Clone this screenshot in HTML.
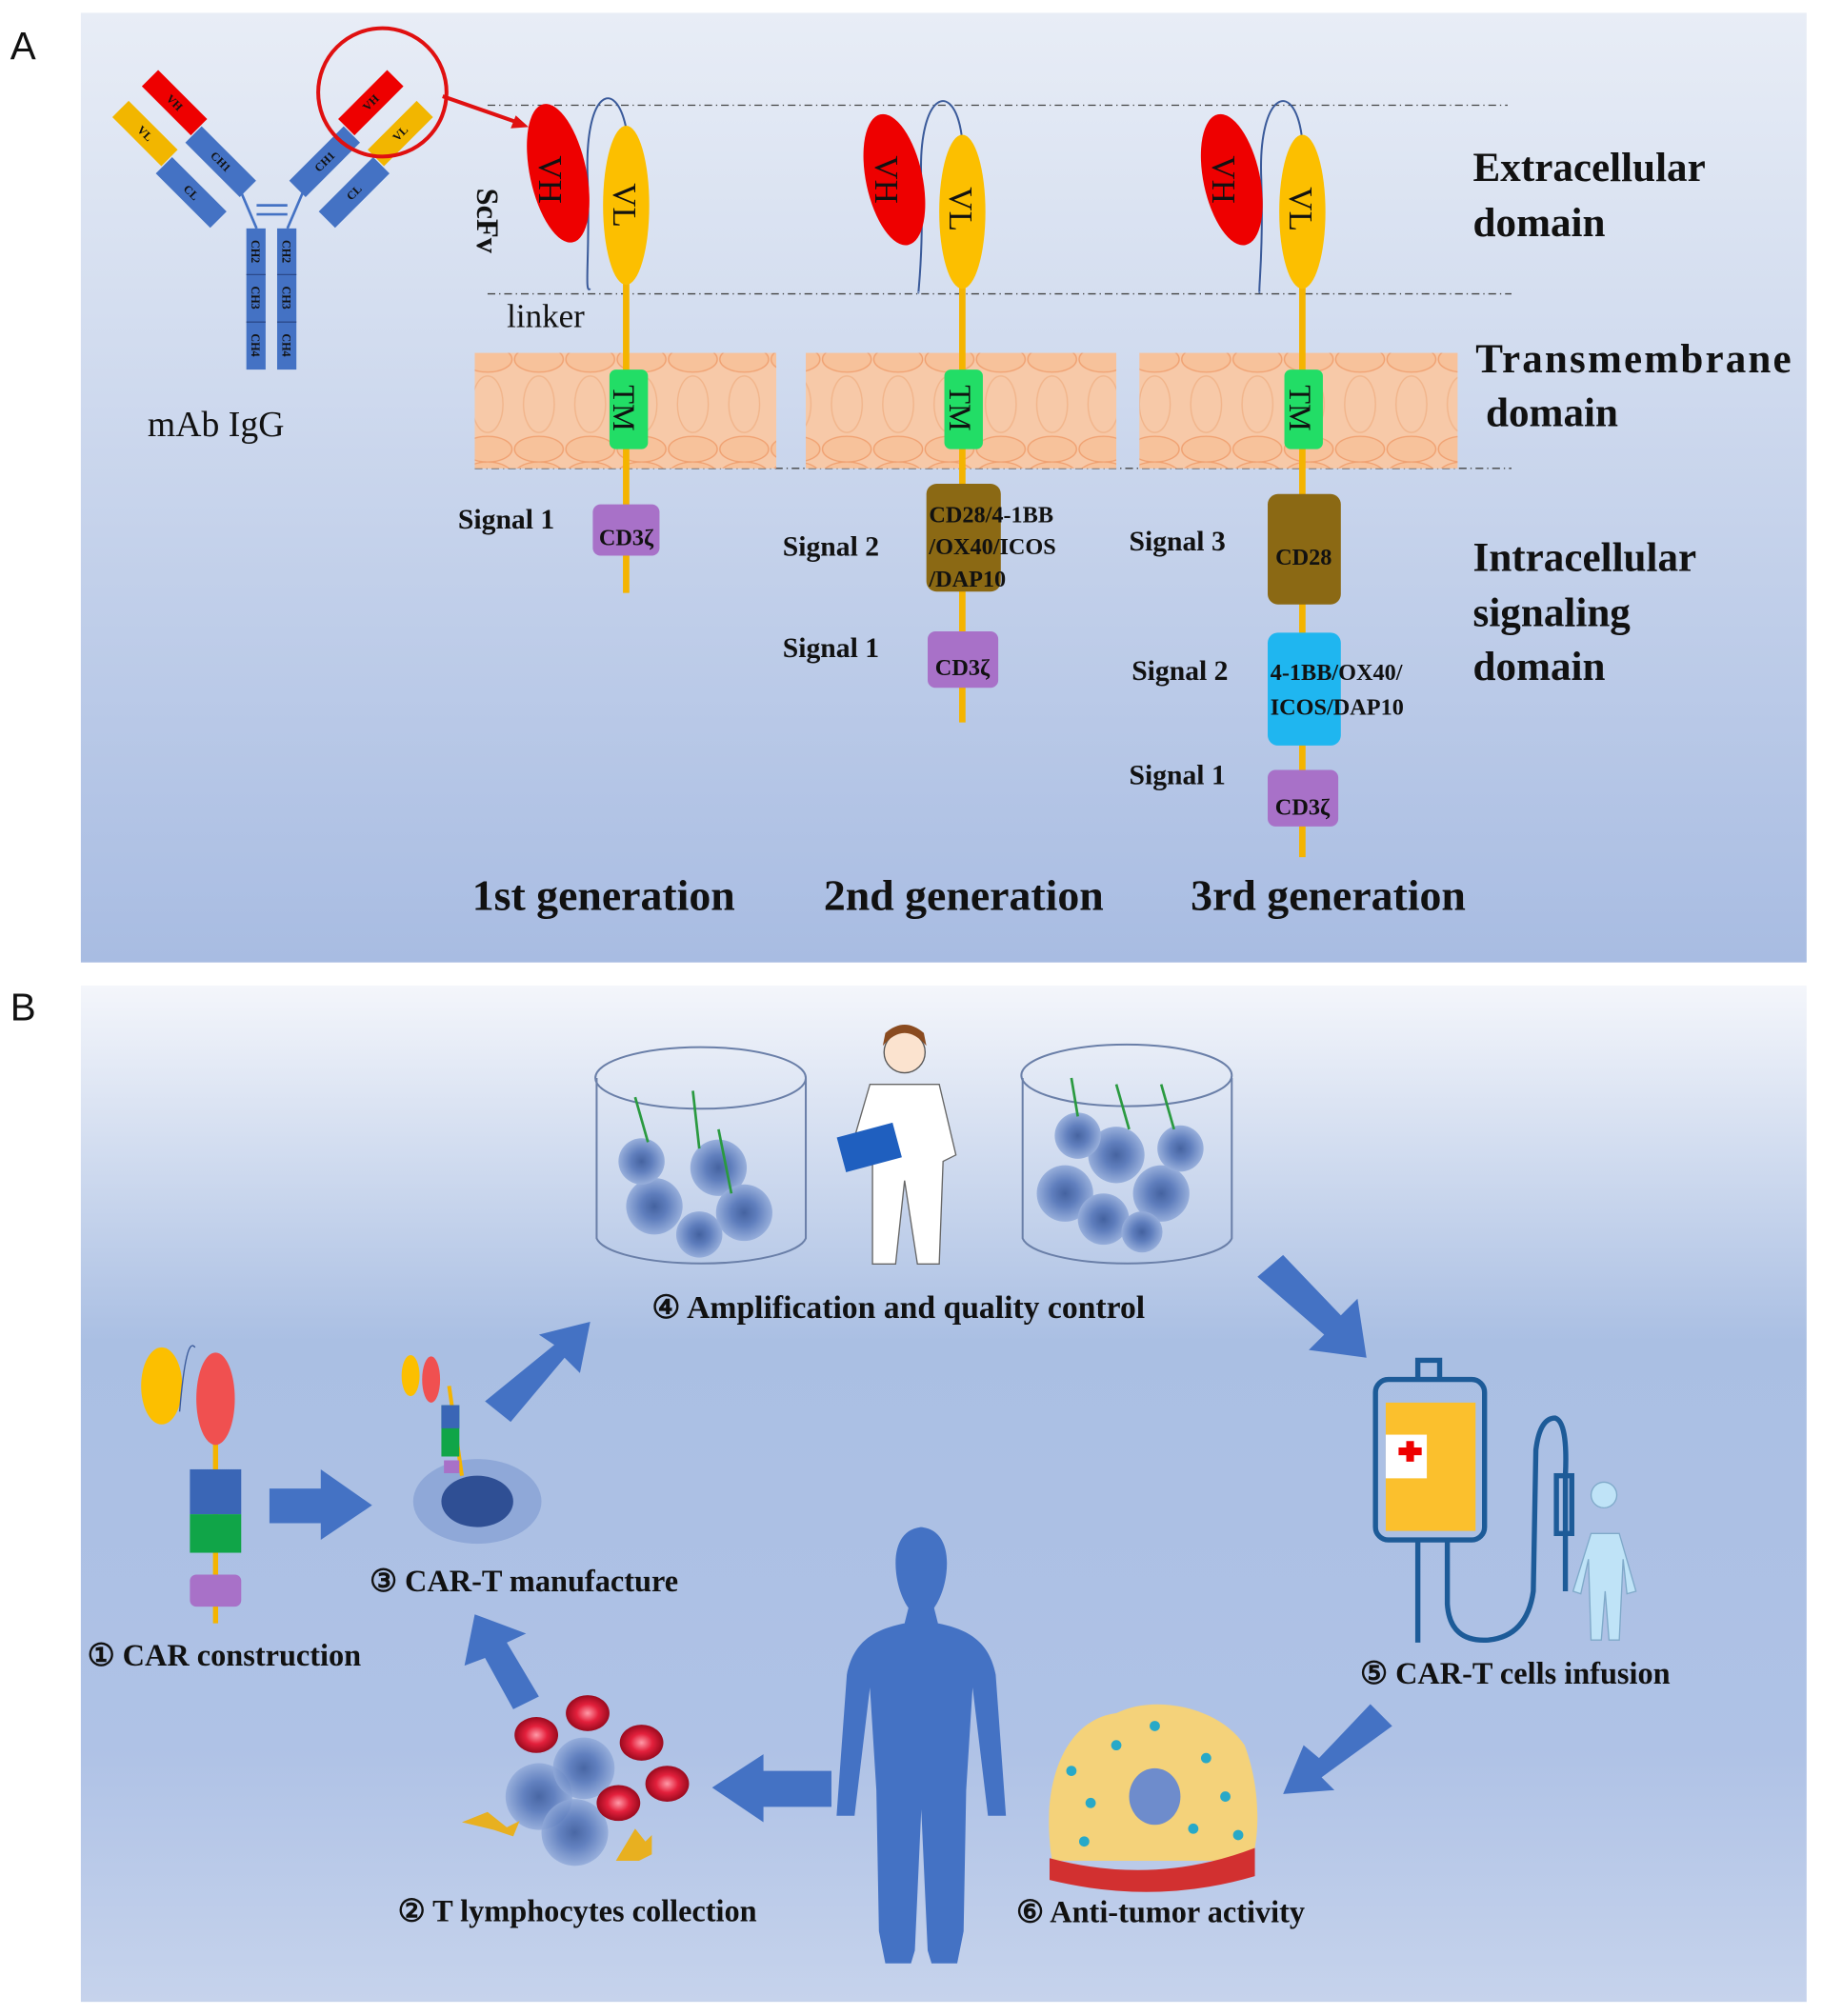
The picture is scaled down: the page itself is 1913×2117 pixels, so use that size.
<!DOCTYPE html>
<html><head><meta charset="utf-8"><style>
html,body{margin:0;padding:0;background:#fff;}
svg{display:block;}
text{font-family:"Liberation Serif",serif;font-weight:bold;fill:#111;}
</style></head><body>
<svg width="1913" height="2117" viewBox="0 0 1420 1571" preserveAspectRatio="none" xmlns="http://www.w3.org/2000/svg">
<defs>
<linearGradient id="ga" x1="0" y1="0" x2="0" y2="1"><stop offset="0" stop-color="#e8edf6"/><stop offset="1" stop-color="#a8bce2"/></linearGradient>
<linearGradient id="gb" x1="0" y1="0" x2="0" y2="1"><stop offset="0" stop-color="#f4f6fb"/><stop offset="0.35" stop-color="#aabfe3"/><stop offset="0.75" stop-color="#afc2e6"/><stop offset="1" stop-color="#c6d3ec"/></linearGradient>
<pattern id="mem" width="40" height="90" patternUnits="userSpaceOnUse"><rect width="40" height="90" fill="#f7c9a8"/><ellipse cx="20" cy="10" rx="19" ry="10" fill="#f7c29b" stroke="#f0a070" stroke-width="1"/><ellipse cx="20" cy="80" rx="19" ry="10" fill="#f7c29b" stroke="#f0a070" stroke-width="1"/><ellipse cx="20" cy="45" rx="12" ry="22" fill="none" stroke="#f1b48a" stroke-width="1"/></pattern>
<radialGradient id="cell"><stop offset="0" stop-color="#2e4f93"/><stop offset="0.45" stop-color="#4d6fb5"/><stop offset="1" stop-color="#8fa8d8"/></radialGradient>
<radialGradient id="rbc"><stop offset="0" stop-color="#ff9aa8"/><stop offset="0.5" stop-color="#e3203c"/><stop offset="1" stop-color="#9a0a1e"/></radialGradient>
</defs>
<rect width="1420" height="1571" fill="#fff"/>
<rect x="63" y="10" width="1345" height="740" fill="url(#ga)"/>
<rect x="63" y="768" width="1345" height="792" fill="url(#gb)"/>
<text x="8" y="46" style="font-family:'Liberation Sans',sans-serif;font-weight:normal;font-size:30px">A</text>
<text x="8" y="795" style="font-family:'Liberation Sans',sans-serif;font-weight:normal;font-size:30px">B</text>

<!-- IgG -->
<g style="font-family:'Liberation Sans',sans-serif;font-weight:normal" font-size="9">
<rect x="192" y="178" width="15" height="110" fill="#4472c4"/><rect x="216" y="178" width="15" height="110" fill="#4472c4"/>
<g stroke="#2b4a8a" stroke-width="1"><line x1="192" y1="214" x2="207" y2="214"/><line x1="192" y1="251" x2="207" y2="251"/><line x1="216" y1="214" x2="231" y2="214"/><line x1="216" y1="251" x2="231" y2="251"/></g>
<g fill="#1a2e66"><text x="196" y="196" transform="rotate(90 196 196)" text-anchor="middle">CH2</text><text x="220" y="196" transform="rotate(90 220 196)" text-anchor="middle">CH2</text>
<text x="196" y="232" transform="rotate(90 196 232)" text-anchor="middle">CH3</text><text x="220" y="232" transform="rotate(90 220 232)" text-anchor="middle">CH3</text>
<text x="196" y="269" transform="rotate(90 196 269)" text-anchor="middle">CH4</text><text x="220" y="269" transform="rotate(90 220 269)" text-anchor="middle">CH4</text></g>
<g stroke="#4472c4" stroke-width="2"><line x1="200" y1="160" x2="224" y2="160"/><line x1="200" y1="167" x2="224" y2="167"/><line x1="188" y1="150" x2="200" y2="178"/><line x1="236" y1="150" x2="224" y2="178"/></g>
<!-- left arm -->
<g transform="translate(136,80) rotate(-45)"><rect x="-9" y="-27" width="18" height="54" fill="#ee0000"/><text x="0" y="3" transform="rotate(90)" text-anchor="middle" fill="#300">VH</text></g>
<g transform="translate(172,126) rotate(-45)"><rect x="-9" y="-30" width="18" height="60" fill="#4472c4"/><text x="0" y="3" transform="rotate(90)" text-anchor="middle" fill="#123">CH1</text></g>
<g transform="translate(113,104) rotate(-45)"><rect x="-9" y="-27" width="18" height="54" fill="#f2b600"/><text x="0" y="3" transform="rotate(90)" text-anchor="middle" fill="#320">VL</text></g>
<g transform="translate(149,150) rotate(-45)"><rect x="-9" y="-30" width="18" height="60" fill="#4472c4"/><text x="0" y="3" transform="rotate(90)" text-anchor="middle" fill="#123">CL</text></g>
<!-- right arm -->
<g transform="translate(289,80) rotate(45)"><rect x="-9" y="-27" width="18" height="54" fill="#ee0000"/><text x="0" y="3" transform="rotate(-90)" text-anchor="middle" fill="#300">VH</text></g>
<g transform="translate(253,126) rotate(45)"><rect x="-9" y="-30" width="18" height="60" fill="#4472c4"/><text x="0" y="3" transform="rotate(-90)" text-anchor="middle" fill="#123">CH1</text></g>
<g transform="translate(312,104) rotate(45)"><rect x="-9" y="-27" width="18" height="54" fill="#f2b600"/><text x="0" y="3" transform="rotate(-90)" text-anchor="middle" fill="#320">VL</text></g>
<g transform="translate(276,150) rotate(45)"><rect x="-9" y="-30" width="18" height="60" fill="#4472c4"/><text x="0" y="3" transform="rotate(-90)" text-anchor="middle" fill="#123">CL</text></g>
</g>
<text x="115" y="340" style="font-weight:normal;font-size:28px">mAb  IgG</text>
<circle cx="298" cy="72" r="50" fill="none" stroke="#e01010" stroke-width="3"/>
<line x1="345" y1="75" x2="405" y2="96" stroke="#e01010" stroke-width="3"/><polygon points="412,99 398,100 402,90" fill="#e01010"/>

<!-- dashed lines -->
<g stroke="#444" stroke-width="1" stroke-dasharray="6,3,1,3">
<line x1="380" y1="82" x2="1175" y2="82"/><line x1="380" y1="229" x2="1178" y2="229"/><line x1="370" y1="365" x2="1178" y2="365"/></g>

<!-- membranes -->
<rect x="370" y="275" width="235" height="90" fill="url(#mem)"/>
<rect x="628" y="275" width="242" height="90" fill="url(#mem)"/>
<rect x="888" y="275" width="248" height="90" fill="url(#mem)"/>

<g>
<line x1="488" y1="200" x2="488" y2="462" stroke="#f4b400" stroke-width="5"/>
<path d="M488 100 C480 60 455 70 458 140 C460 200 455 230 460 225" fill="none" stroke="#3a5a9a" stroke-width="1.5"/>
<ellipse cx="435" cy="135" rx="22" ry="55" transform="rotate(-12 435 135)" fill="#ee0000"/>
<ellipse cx="488" cy="160" rx="18" ry="62" fill="#fcbf00"/>
<rect x="475" y="288" width="30" height="62" rx="5" fill="#22dd66"/>
<rect x="462" y="393" width="52" height="40" rx="6" fill="#a871c8"/>
</g>
<text x="420" y="140" transform="rotate(90 420 140)" font-size="26" style="font-weight:normal" text-anchor="middle">VH</text>
<text x="478" y="160" transform="rotate(90 478 160)" font-size="26" style="font-weight:normal" text-anchor="middle">VL</text>
<text x="478" y="318" transform="rotate(90 478 318)" font-size="24" style="font-weight:normal" text-anchor="middle">TM</text>
<text x="488" y="425" font-size="18" text-anchor="middle">CD3ζ</text>
<text x="372" y="172" transform="rotate(90 372 172)" font-size="24" text-anchor="middle">ScFv</text>
<text x="395" y="255" font-size="26" style="font-weight:normal">linker</text>
<text x="357" y="412" font-size="22">Signal 1</text>

<line x1="750" y1="200" x2="750" y2="563" stroke="#f4b400" stroke-width="5"/>
<path d="M750 110 C745 60 715 70 718 140 C720 200 715 230 716 228" fill="none" stroke="#3a5a9a" stroke-width="1.5"/>
<ellipse cx="697" cy="140" rx="22" ry="52" transform="rotate(-12 697 140)" fill="#ee0000"/>
<ellipse cx="750" cy="165" rx="18" ry="60" fill="#fcbf00"/>
<rect x="736" y="288" width="30" height="62" rx="5" fill="#22dd66"/>
<rect x="722" y="377" width="58" height="84" rx="8" fill="#8b6914"/>
<rect x="723" y="492" width="55" height="44" rx="6" fill="#a871c8"/>
<text x="682" y="140" transform="rotate(90 682 140)" font-size="26" style="font-weight:normal" text-anchor="middle">VH</text>
<text x="740" y="163" transform="rotate(90 740 163)" font-size="26" style="font-weight:normal" text-anchor="middle">VL</text>
<text x="740" y="318" transform="rotate(90 740 318)" font-size="24" style="font-weight:normal" text-anchor="middle">TM</text>
<text x="724" y="407" font-size="18">CD28/4-1BB</text><text x="724" y="432" font-size="18">/OX40/ICOS</text><text x="724" y="457" font-size="18">/DAP10</text>
<text x="750" y="526" font-size="18" text-anchor="middle">CD3ζ</text>
<text x="610" y="433" font-size="22">Signal 2</text><text x="610" y="512" font-size="22">Signal 1</text>

<line x1="1015" y1="200" x2="1015" y2="668" stroke="#f4b400" stroke-width="5"/>
<path d="M1015 110 C1010 60 980 70 983 140 C985 200 980 230 982 228" fill="none" stroke="#3a5a9a" stroke-width="1.5"/>
<ellipse cx="960" cy="140" rx="22" ry="52" transform="rotate(-12 960 140)" fill="#ee0000"/>
<ellipse cx="1015" cy="165" rx="18" ry="60" fill="#fcbf00"/>
<rect x="1001" y="288" width="30" height="62" rx="5" fill="#22dd66"/>
<rect x="988" y="385" width="57" height="86" rx="8" fill="#8b6914"/>
<rect x="988" y="493" width="57" height="88" rx="8" fill="#1fb6f0"/>
<rect x="988" y="600" width="55" height="44" rx="6" fill="#a871c8"/>
<text x="945" y="140" transform="rotate(90 945 140)" font-size="26" style="font-weight:normal" text-anchor="middle">VH</text>
<text x="1005" y="163" transform="rotate(90 1005 163)" font-size="26" style="font-weight:normal" text-anchor="middle">VL</text>
<text x="1005" y="318" transform="rotate(90 1005 318)" font-size="24" style="font-weight:normal" text-anchor="middle">TM</text>
<text x="1016" y="440" font-size="18" text-anchor="middle">CD28</text>
<text x="990" y="530" font-size="18">4-1BB/OX40/</text><text x="990" y="557" font-size="18">ICOS/DAP10</text>
<text x="1015" y="635" font-size="18" text-anchor="middle">CD3ζ</text>
<text x="880" y="429" font-size="22">Signal 3</text><text x="882" y="530" font-size="22">Signal 2</text><text x="880" y="611" font-size="22">Signal 1</text>

<g font-size="32"><text x="1148" y="141">Extracellular</text><text x="1148" y="184">domain</text>
<text x="1150" y="290" textLength="246">Transmembrane</text><text x="1158" y="332">domain</text>
<text x="1148" y="445">Intracellular</text><text x="1148" y="488">signaling</text><text x="1148" y="530">domain</text>
<text x="368" y="709" font-size="34">1st generation</text><text x="642" y="709" font-size="34">2nd generation</text><text x="928" y="709" font-size="34">3rd generation</text></g>

<!-- Panel B -->
<g fill="none" stroke="#6a7fa8" stroke-width="1.5">
<path d="M465 840 L465 965 A82 22 0 0 0 628 965 L628 840"/><ellipse cx="546" cy="840" rx="82" ry="24"/>
<path d="M797 840 L797 965 A82 22 0 0 0 960 965 L960 840"/><ellipse cx="878" cy="838" rx="82" ry="24"/>
</g>
<g fill="url(#cell)" opacity="0.85">
<circle cx="510" cy="940" r="22"/><circle cx="560" cy="910" r="22"/><circle cx="580" cy="945" r="22"/><circle cx="545" cy="962" r="18"/><circle cx="500" cy="905" r="18"/>
<circle cx="830" cy="930" r="22"/><circle cx="870" cy="900" r="22"/><circle cx="905" cy="930" r="22"/><circle cx="860" cy="950" r="20"/><circle cx="920" cy="895" r="18"/><circle cx="840" cy="885" r="18"/><circle cx="890" cy="960" r="16"/>
</g>
<g stroke-width="2">
<line x1="505" y1="890" x2="495" y2="855" stroke="#2a9a40"/><line x1="545" y1="895" x2="540" y2="850" stroke="#2a9a40"/><line x1="570" y1="930" x2="560" y2="880" stroke="#2a9a40"/>
<line x1="840" y1="870" x2="835" y2="840" stroke="#2a9a40"/><line x1="880" y1="880" x2="870" y2="845" stroke="#2a9a40"/><line x1="915" y1="880" x2="905" y2="845" stroke="#2a9a40"/>
</g>
<g>
<circle cx="705" cy="820" r="16" fill="#fbe3cf" stroke="#555"/><path d="M688 815 Q705 795 722 815 L720 805 Q705 792 690 805Z" fill="#8a4b20"/>
<path d="M678 845 L732 845 L745 900 L735 905 L732 985 L715 985 L705 920 L698 985 L680 985 L680 905 L662 900Z" fill="#fff" stroke="#666"/>
<rect x="655" y="880" width="45" height="28" fill="#1f5fbf" transform="rotate(-15 678 894)"/>
</g>
<text x="508" y="1027" font-size="25">④ Amplification and quality control</text>

<g fill="#4472c4">
<polygon points="980,995 1000,978 1045,1025 1058,1012 1065,1058 1020,1052 1032,1040"/>
<polygon points="378,1092 398,1108 440,1058 452,1070 460,1030 420,1040 432,1048"/>
<polygon points="210,1160 250,1160 250,1145 290,1173 250,1200 250,1187 210,1187"/>
<polygon points="400,1332 420,1322 395,1280 410,1273 370,1258 362,1298 378,1292"/>
<polygon points="648,1380 648,1408 595,1408 595,1420 555,1393 595,1367 595,1380"/>
<polygon points="1085,1345 1068,1328 1028,1370 1016,1360 1000,1398 1040,1395 1030,1385"/>
</g>

<line x1="168" y1="1090" x2="168" y2="1265" stroke="#f4b400" stroke-width="4"/>
<ellipse cx="126" cy="1080" rx="16" ry="30" fill="#fcbf00"/>
<ellipse cx="168" cy="1090" rx="15" ry="36" fill="#f05050"/>
<path d="M140 1100 Q145 1040 152 1050" fill="none" stroke="#3a5a9a"/>
<rect x="148" y="1145" width="40" height="35" fill="#3a66b6"/><rect x="148" y="1180" width="40" height="30" fill="#10a548"/>
<rect x="148" y="1227" width="40" height="25" rx="5" fill="#a871c8"/>
<text x="68" y="1298" font-size="24">① CAR construction</text>
<ellipse cx="372" cy="1170" rx="50" ry="33" fill="#8fa8d8"/><ellipse cx="372" cy="1170" rx="28" ry="20" fill="#2f4f94"/>
<line x1="350" y1="1080" x2="360" y2="1150" stroke="#f4b400" stroke-width="3"/>
<ellipse cx="320" cy="1072" rx="7" ry="16" fill="#fcbf00"/><ellipse cx="336" cy="1075" rx="7" ry="18" fill="#f05050"/>
<rect x="344" y="1095" width="14" height="40" fill="#10a548"/><rect x="344" y="1095" width="14" height="18" fill="#3a66b6"/>
<rect x="346" y="1138" width="12" height="10" fill="#a871c8"/>
<text x="288" y="1240" font-size="24">③ CAR-T manufacture</text>

<g fill="none" stroke="#1d5b98" stroke-width="4">
<rect x="1072" y="1075" width="85" height="125" rx="10"/>
<path d="M1105 1075 L1105 1060 L1122 1060 L1122 1075"/>
<line x1="1105" y1="1200" x2="1105" y2="1280"/>
<path d="M1128 1200 L1128 1250 Q1130 1280 1160 1278 Q1190 1275 1195 1240 L1197 1130 Q1200 1105 1212 1105 Q1222 1108 1220 1150 L1220 1240"/>
<rect x="1213" y="1150" width="12" height="45"/>
</g>
<rect x="1080" y="1093" width="70" height="100" fill="#fbc02d"/>
<rect x="1080" y="1118" width="32" height="34" fill="#fff"/>
<path d="M1090 1128 h6 v-5 h6 v5 h6 v6 h-6 v5 h-6 v-5 h-6z" fill="#e00"/>
<path d="M1250 1175 a10 10 0 1 1 0.1 0 M1240 1195 L1262 1195 L1275 1240 L1268 1242 L1265 1215 L1262 1278 L1254 1278 L1251 1240 L1248 1278 L1240 1278 L1238 1215 L1232 1242 L1226 1240Z" fill="#bfe3f7" stroke="#7fa9c9"/>
<text x="1060" y="1312" font-size="24">⑤ CAR-T cells infusion</text>

<path d="M720 1190 c-15 0 -22 12 -22 28 c0 15 5 28 10 35 l-3 12 c-25 5 -40 15 -45 40 l-8 110 l14 0 l12 -100 l5 80 l2 110 l5 25 l20 0 l3 -10 l5 -110 l5 110 l3 10 l20 0 l5 -25 l2 -110 l5 -80 l12 100 l14 0 l-8 -110 c-5 -25 -20 -35 -45 -40 l-3 -12 c5 -7 10 -20 10 -35 c0 -16 -7 -28 -22 -28z" fill="#4472c4"/>

<g>
<circle cx="420" cy="1400" r="26" fill="url(#cell)" opacity="0.8"/><circle cx="455" cy="1378" r="24" fill="url(#cell)" opacity="0.8"/><circle cx="448" cy="1428" r="26" fill="url(#cell)" opacity="0.8"/>
<ellipse cx="418" cy="1352" rx="17" ry="14" fill="url(#rbc)"/><ellipse cx="458" cy="1335" rx="17" ry="14" fill="url(#rbc)"/><ellipse cx="500" cy="1358" rx="17" ry="14" fill="url(#rbc)"/>
<ellipse cx="520" cy="1390" rx="17" ry="14" fill="url(#rbc)"/><ellipse cx="482" cy="1405" rx="17" ry="14" fill="url(#rbc)"/>
<path d="M360 1420 l20 -8 l15 12 l10 -5 l-5 12 l-15 -5z" fill="#e8b020"/><path d="M480 1450 l15 -25 l8 10 l5 -5 l0 15 l-10 5z" fill="#e8b020"/>
</g>
<text x="310" y="1497" font-size="24">② T lymphocytes collection</text>

<path d="M820 1450 C810 1390 830 1340 870 1335 C900 1320 950 1330 970 1360 C985 1400 980 1440 975 1450Z" fill="#f4d27a"/>
<g fill="#28a9c8"><circle cx="835" cy="1380" r="4"/><circle cx="850" cy="1405" r="4"/><circle cx="870" cy="1360" r="4"/><circle cx="940" cy="1370" r="4"/><circle cx="955" cy="1400" r="4"/><circle cx="930" cy="1425" r="4"/><circle cx="845" cy="1435" r="4"/><circle cx="965" cy="1430" r="4"/><circle cx="900" cy="1345" r="4"/></g>
<ellipse cx="900" cy="1400" rx="20" ry="22" fill="#6e8ccc"/>
<path d="M818 1448 Q900 1470 978 1440 L978 1462 Q900 1485 818 1465Z" fill="#d23030"/>
<text x="792" y="1498" font-size="24">⑥ Anti-tumor activity</text>
</svg>
</body></html>
